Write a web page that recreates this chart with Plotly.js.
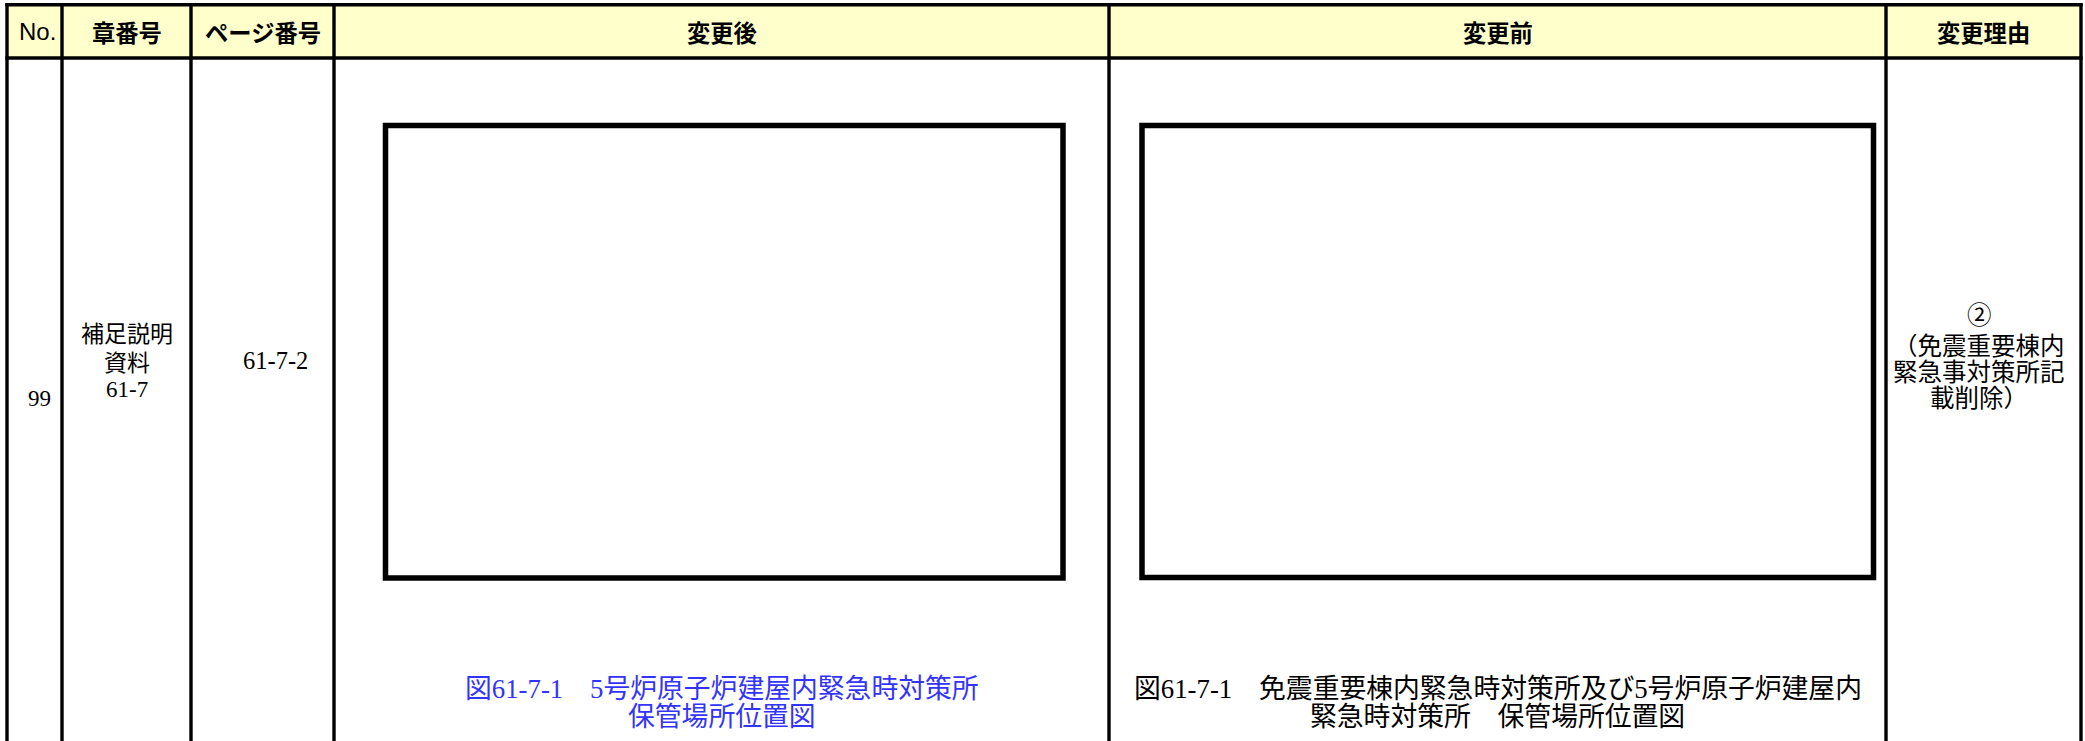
<!DOCTYPE html>
<html>
<head>
<meta charset="utf-8">
<script src="https://cdn.plot.ly/plotly-3.0.1.min.js"></script>
<style>html,body{margin:0;padding:0;background:#fff;}#chart{width:2085px;height:741px;}</style>
</head>
<body>
<div id="chart"></div>
<script>
// ---- content (text) ----
const headerLabels = ['No.', '章番号', 'ページ番号', '変更後', '変更前', '変更理由'];
const rowNo = ['99'];
const chapterLines = ['補足説明', '資料', '61-7'];
const pageNo = ['61-7-2'];
const afterCaption = ['図61-7-1　5号炉原子炉建屋内緊急時対策所', '保管場所位置図'];
const beforeCaption = ['図61-7-1　免震重要棟内緊急時対策所及び5号炉原子炉建屋内', '緊急時対策所　保管場所位置図'];
const reasonLines = ['②', '（免震重要棟内', '緊急事対策所記', '載削除）'];

// ---- layout geometry (pixels in a 2085 x 741 frame) ----
const W = 2085, H = 741;
const colEdges = [7, 62, 191, 334, 1109, 1886, 2081];
const tableTop = 4.7, headerBottom = 58;
const headerY = 31.5;
const figBoxes = [[385.5, 125.4, 1063, 578], [1142, 125.4, 1873.5, 577.5]];

const serif = 'Liberation Serif, Noto Sans CJK JP, sans-serif';
const gothic = 'Noto Sans CJK JP, sans-serif';

const shapes = [];
// header fill
shapes.push({type: 'rect', xref: 'x', yref: 'y', x0: colEdges[0], x1: colEdges[6], y0: tableTop, y1: headerBottom,
  fillcolor: '#FFFFCC', line: {width: 0}, layer: 'below'});
// horizontal lines
[tableTop, headerBottom].forEach(y => shapes.push({type: 'line', xref: 'x', yref: 'y',
  x0: colEdges[0] - 1.7, x1: colEdges[6] + 1.7, y0: y, y1: y, line: {color: '#000', width: 3.6}}));
// vertical lines
colEdges.forEach(x => shapes.push({type: 'line', xref: 'x', yref: 'y',
  x0: x, x1: x, y0: tableTop - 1.7, y1: H + 5, line: {color: '#000', width: 3.4}}));
// figure frames
figBoxes.forEach(b => shapes.push({type: 'rect', xref: 'x', yref: 'y',
  x0: b[0], y0: b[1], x1: b[2], y1: b[3], line: {color: '#000', width: 5.5}, fillcolor: 'rgba(0,0,0,0)'}));

const annotations = [];
function txt(text, x, y, size, family, color, weight) {
  annotations.push({text: text, x: x, y: y, xref: 'x', yref: 'y', showarrow: false,
    xanchor: 'center', yanchor: 'middle',
    font: {size: size, family: family, color: color || '#000', weight: weight || 'normal'}});
}
// header labels
headerLabels.forEach((lab, i) => {
  const cx = (colEdges[i] + colEdges[i + 1]) / 2 + (i === 0 ? 2.5 : 0);
  const fam = i === 0 ? 'Liberation Sans Narrow, Liberation Sans, sans-serif' : gothic;
  txt(lab, cx, headerY, i === 0 ? 24 : 23.3, fam, '#000', i === 0 ? 'normal' : 'bold');
});
// body row
txt(rowNo[0], 39, 398, 23, serif);
const chapY = [334, 363, 389];
chapterLines.forEach((t, i) => txt(t, 127, chapY[i], 23, serif));
txt(pageNo[0], 275, 360, 24.5, serif);
const capY = [689, 717];
afterCaption.forEach((t, i) => txt(t, 721.5, capY[i], 26.8, serif, '#3333ff'));
beforeCaption.forEach((t, i) => txt(t, 1497.5, capY[i], 26.8, serif));
const reasonY = [315, 346, 372, 398];
reasonLines.forEach((t, i) => txt(t, 1979, reasonY[i], 24.5, serif));

const layout = {
  width: W, height: H,
  margin: {l: 0, r: 0, t: 0, b: 0, pad: 0},
  paper_bgcolor: '#fff', plot_bgcolor: '#fff',
  xaxis: {range: [0, W], visible: false, fixedrange: true},
  yaxis: {range: [H, 0], visible: false, fixedrange: true},
  showlegend: false,
  shapes: shapes,
  annotations: annotations
};
Plotly.newPlot('chart', [{type: 'scatter', x: [], y: [], mode: 'markers', hoverinfo: 'skip'}], layout,
  {staticPlot: true, displayModeBar: false});
</script>
</body>
</html>
